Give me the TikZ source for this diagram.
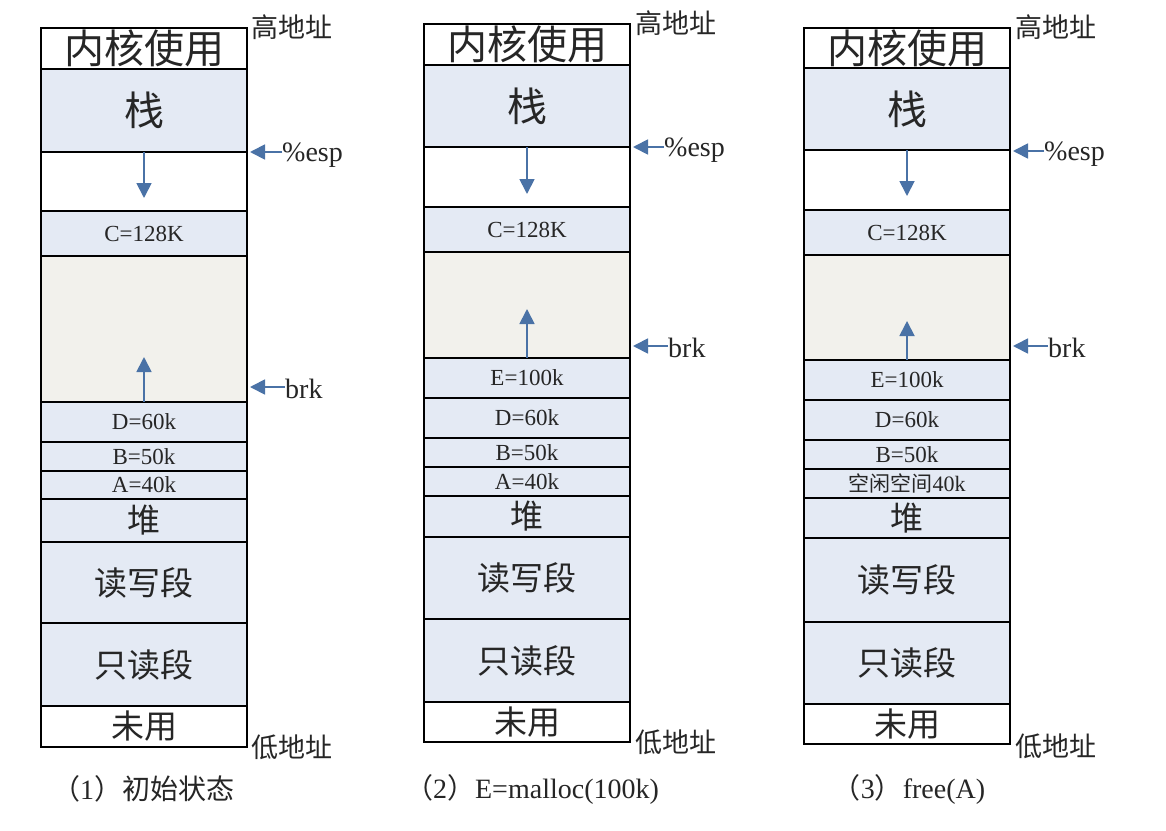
\documentclass[tikz,border=0pt]{standalone}
\usepackage{fontspec}
\setmainfont{Liberation Serif}
\newfontfamily\cjk{Noto Sans CJK SC}
\usetikzlibrary{arrows.meta}
\definecolor{segblue}{HTML}{E4EAF4}
\definecolor{freegray}{HTML}{F2F1EC}
\definecolor{arrowblue}{HTML}{4A72A6}
\definecolor{inkgray}{HTML}{262626}
\tikzset{
  segline/.style={draw=black, line width=2pt},
  segtext/.style={inner sep=0pt, text=inkgray},
  ptr/.style={draw=arrowblue, line width=1.8pt, -{Triangle[width=15pt,length=15pt]}},
  side/.style={inner sep=0pt, anchor=west, text=inkgray, font=\fontsize{28}{30}\selectfont},
  sidecjk/.style={inner sep=0pt, anchor=west, text=inkgray, font=\cjk\fontsize{27}{30}\selectfont},
  caption/.style={inner sep=0pt, text=inkgray, font=\fontsize{28}{30}\selectfont},
}
\newcommand\seg[7]{\path[segline, fill=#6] (#2,#3) rectangle node[segtext] (#1) {#7} (#4,#5);}
\newcommand\fbig{\cjk\fontsize{40}{42}\selectfont}
\newcommand\fmid{\cjk\fontsize{33}{36}\selectfont}
\newcommand\fsmall{\fontsize{23}{24}\selectfont}
\newcommand\fsmallcjk{\cjk\fontsize{21}{24}\selectfont}
\begin{document}
\begin{tikzpicture}[x=1pt,y=-1pt]
\useasboundingbox[fill=white] (0,0) rectangle (1166,830);
% ---------- column 1 ----------
\seg{k1}{41}{28}{247}{69}{white}{\fbig 内核使用}
\seg{s1}{41}{69}{247}{152}{segblue}{\fbig 栈}
\seg{w1}{41}{152}{247}{211}{white}{}
\seg{c1}{41}{211}{247}{256}{segblue}{\fsmall C=128K}
\seg{f1}{41}{256}{247}{402}{freegray}{}
\seg{d1}{41}{402}{247}{442}{segblue}{\fsmall D=60k}
\seg{b1}{41}{442}{247}{471}{segblue}{\fsmall B=50k}
\seg{a1}{41}{471}{247}{499}{segblue}{\fsmall A=40k}
\seg{h1}{41}{499}{247}{542}{segblue}{\fmid 堆}
\seg{rw1}{41}{542}{247}{623}{segblue}{\fmid 读写段}
\seg{ro1}{41}{623}{247}{706}{segblue}{\fmid 只读段}
\seg{u1}{41}{706}{247}{747}{white}{\fmid 未用}
\node[sidecjk] (hi1) at (251,27) {高地址};
\node[sidecjk] (lo1) at (251,747) {低地址};
\node[side] (esp1) at (282,155) {\%esp};
\node[side] (brk1) at (285,389) {brk};
\coordinate (esp1t) at (250,152);
\coordinate (brk1t) at (250,387);
\draw[ptr] (esp1.west |- esp1t) -- (esp1t);
\draw[ptr] (brk1.west |- brk1t) -- (brk1t);
\coordinate (dn1s) at (144,152);
\coordinate (dn1e) at (144,198);
\coordinate (up1s) at (144,402);
\coordinate (up1e) at (144,357);
\draw[ptr] (dn1s) -- (dn1e);
\draw[ptr] (up1s) -- (up1e);
\node[caption] (cap1) at (143,789) {\cjk（{\rmfamily 1}）初始状态};
% ---------- column 2 ----------
\seg{k2}{424}{24}{630}{65}{white}{\fbig 内核使用}
\seg{s2}{424}{65}{630}{147}{segblue}{\fbig 栈}
\seg{w2}{424}{147}{630}{207}{white}{}
\seg{c2}{424}{207}{630}{252}{segblue}{\fsmall C=128K}
\seg{f2}{424}{252}{630}{358}{freegray}{}
\seg{e2}{424}{358}{630}{398}{segblue}{\fsmall E=100k}
\seg{d2}{424}{398}{630}{438}{segblue}{\fsmall D=60k}
\seg{b2}{424}{438}{630}{467}{segblue}{\fsmall B=50k}
\seg{a2}{424}{467}{630}{496}{segblue}{\fsmall A=40k}
\seg{h2}{424}{496}{630}{537}{segblue}{\fmid 堆}
\seg{rw2}{424}{537}{630}{619}{segblue}{\fmid 读写段}
\seg{ro2}{424}{619}{630}{702}{segblue}{\fmid 只读段}
\seg{u2}{424}{702}{630}{742}{white}{\fmid 未用}
\node[sidecjk] (hi2) at (635,23) {高地址};
\node[sidecjk] (lo2) at (635,742) {低地址};
\node[side] (esp2) at (664,150) {\%esp};
\node[side] (brk2) at (668,348) {brk};
\coordinate (esp2t) at (633,147);
\coordinate (brk2t) at (633,346);
\draw[ptr] (esp2.west |- esp2t) -- (esp2t);
\draw[ptr] (brk2.west |- brk2t) -- (brk2t);
\coordinate (dn2s) at (527,147);
\coordinate (dn2e) at (527,194);
\coordinate (up2s) at (527,358);
\coordinate (up2e) at (527,309);
\draw[ptr] (dn2s) -- (dn2e);
\draw[ptr] (up2s) -- (up2e);
\node[caption] (cap2) at (532,789) {\cjk（{\rmfamily 2}）{\rmfamily E=malloc(100k)}};
% ---------- column 3 ----------
\seg{k3}{804}{28}{1010}{68}{white}{\fbig 内核使用}
\seg{s3}{804}{68}{1010}{150}{segblue}{\fbig 栈}
\seg{w3}{804}{150}{1010}{210}{white}{}
\seg{c3}{804}{210}{1010}{255}{segblue}{\fsmall C=128K}
\seg{f3}{804}{255}{1010}{360}{freegray}{}
\seg{e3}{804}{360}{1010}{400}{segblue}{\fsmall E=100k}
\seg{d3}{804}{400}{1010}{440}{segblue}{\fsmall D=60k}
\seg{b3}{804}{440}{1010}{469}{segblue}{\fsmall B=50k}
\seg{a3}{804}{469}{1010}{498}{segblue}{\fsmallcjk 空闲空间{\rmfamily\fontsize{22}{24}\selectfont 40k}}
\seg{h3}{804}{498}{1010}{538}{segblue}{\fmid 堆}
\seg{rw3}{804}{538}{1010}{622}{segblue}{\fmid 读写段}
\seg{ro3}{804}{622}{1010}{704}{segblue}{\fmid 只读段}
\seg{u3}{804}{704}{1010}{744}{white}{\fmid 未用}
\node[sidecjk] (hi3) at (1015,27) {高地址};
\node[sidecjk] (lo3) at (1015,746) {低地址};
\node[side] (esp3) at (1044,154) {\%esp};
\node[side] (brk3) at (1048,348) {brk};
\coordinate (esp3t) at (1013,151);
\coordinate (brk3t) at (1013,346);
\draw[ptr] (esp3.west |- esp3t) -- (esp3t);
\draw[ptr] (brk3.west |- brk3t) -- (brk3t);
\coordinate (dn3s) at (907,150);
\coordinate (dn3e) at (907,196);
\coordinate (up3s) at (907,360);
\coordinate (up3e) at (907,321);
\draw[ptr] (dn3s) -- (dn3e);
\draw[ptr] (up3s) -- (up3e);
\node[caption] (cap3) at (909,789) {\cjk（{\rmfamily 3}）{\rmfamily free(A)}};
\end{tikzpicture}
\end{document}
